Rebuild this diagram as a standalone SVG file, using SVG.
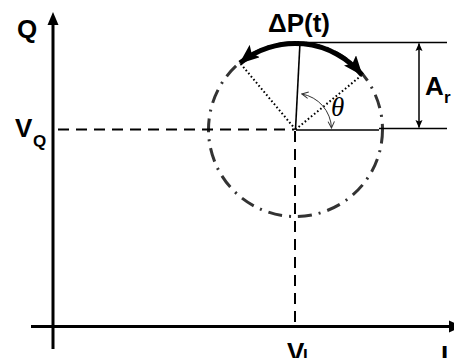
<svg xmlns="http://www.w3.org/2000/svg" width="454" height="358" viewBox="0 0 454 358">
<defs>
<style>
.lbl{font-family:"Liberation Sans",Arial,sans-serif;font-weight:bold;fill:#000}
.big{font-size:26px}
.sub{font-size:17px}
.axis{stroke:#000;stroke-width:3;fill:none}
.dash{stroke:#000;stroke-width:2;stroke-dasharray:11 7;fill:none}
.dot{stroke:#000;stroke-width:2;stroke-dasharray:1.6 2.4;fill:none}
.thin{stroke:#000;stroke-width:1.6;fill:none}
</style>
<marker id="bigArrow" viewBox="0 0 20 16" refX="19" refY="8" markerWidth="20" markerHeight="16" markerUnits="userSpaceOnUse" orient="auto-start-reverse">
<path d="M0,0 L20,8 L0,16 L4,8 Z" fill="#000"/>
</marker>
<marker id="smallArrow" viewBox="0 0 8 8" refX="7.5" refY="4" markerWidth="8" markerHeight="8" markerUnits="userSpaceOnUse" orient="auto-start-reverse">
<path d="M0,0.5 L8,4 L0,7.5 L1.5,4 Z" fill="#000"/>
</marker>
<marker id="openArrow" viewBox="0 0 8 8" refX="7" refY="4" markerWidth="8" markerHeight="8" markerUnits="userSpaceOnUse" orient="auto-start-reverse">
<path d="M0.5,0.8 L7,4 L0.5,7.2" fill="none" stroke="#333" stroke-width="1"/>
</marker>
</defs>

<g id="axes">
<line class="axis" x1="53" y1="22" x2="53" y2="349"/>
<polygon points="53,12 47.5,25 58.5,25" fill="#000"/>
<line class="axis" x1="31" y1="326.5" x2="452" y2="326.5"/>
<polygon points="449,320.5 462,326.5 449,332.5" fill="#000"/>
</g>

<g id="circle">
<circle cx="295.5" cy="129.5" r="87" fill="none" stroke="#333" stroke-width="3" stroke-dasharray="14 7 2 7"/>
</g>

<g id="connectors">
<line class="dash" x1="58" y1="129.5" x2="294" y2="129.5"/>
<line class="dash" x1="295" y1="131" x2="295" y2="325"/>
<line class="thin" x1="296" y1="130" x2="379" y2="130"/>
<line class="thin" x1="379" y1="128.5" x2="447" y2="128.5"/>
<line class="thin" x1="290" y1="42.5" x2="447" y2="42.5"/>
<line class="thin" x1="295.5" y1="129.5" x2="300" y2="42.5"/>
<line class="dot" x1="295.5" y1="129.5" x2="240" y2="63"/>
<line class="dot" x1="295.5" y1="129.5" x2="362" y2="75"/>
<line stroke="#000" stroke-width="1.5" x1="419" y1="43.5" x2="419" y2="127.5" marker-start="url(#smallArrow)" marker-end="url(#smallArrow)"/>
<path d="M240,63 A87,87 0 0 1 362,75" fill="none" stroke="#000" stroke-width="5" marker-start="url(#bigArrow)" marker-end="url(#bigArrow)"/>
<path d="M301.8,94 A36,36 0 0 1 331.5,128" fill="none" stroke="#333" stroke-width="1" marker-start="url(#openArrow)" marker-end="url(#openArrow)"/>
</g>

<g id="labels">
<text class="lbl big" x="17" y="38">Q</text>
<text class="lbl big" x="15" y="137">V</text>
<text class="lbl sub" x="33" y="147">Q</text>
<text class="lbl big" x="268" y="32">ΔP(t)</text>
<text class="lbl big" x="425" y="95">A</text>
<text class="lbl sub" x="444" y="103">r</text>
<text class="lbl big" x="287" y="361">V</text>
<text class="lbl sub" x="303" y="361">I</text>
<text class="lbl big" x="441" y="364">I</text>
<text x="331" y="116" font-family="'Liberation Serif','Times New Roman',serif" font-style="italic" font-size="27" fill="#000">θ</text>
</g>
</svg>
